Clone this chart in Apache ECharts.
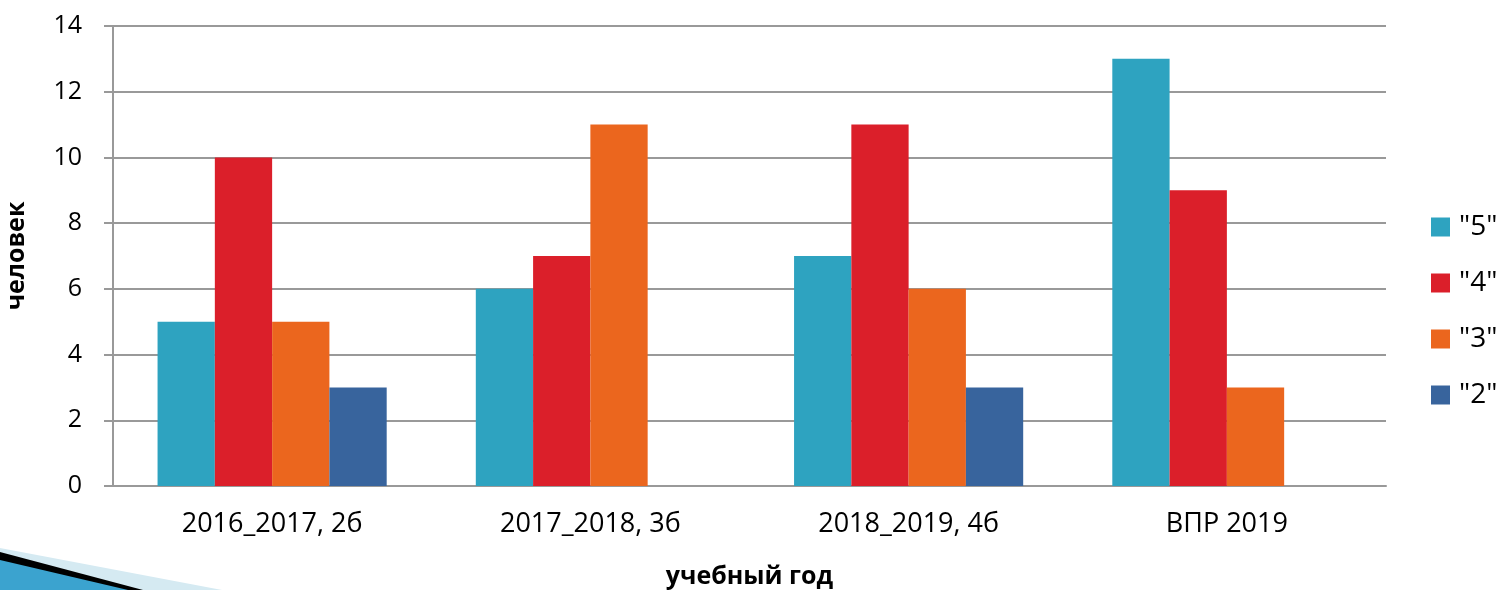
<!DOCTYPE html>
<html>
<head>
<meta charset="UTF-8">
<script src="https://cdn.jsdelivr.net/npm/echarts@6/dist/echarts.min.js"></script>
<style>
html,body{margin:0;padding:0;background:#fff;}
#chart{width:1499px;height:590px;}
</style>
</head>
<body>
<div id="chart"></div>
<script>
var categories = ['2016_2017, 2б', '2017_2018, 3б', '2018_2019, 4б', 'ВПР 2019'];
var grade5 = [5, 6, 7, 13];
var grade4 = [10, 7, 11, 9];
var grade3 = [5, 11, 6, 3];
var grade2 = [3, 0, 3, 0];
var seriesNames = ['"5"', '"4"', '"3"', '"2"'];
var colors = ['#2ea3c0', '#db1f2a', '#eb661e', '#38649d'];

var font = '"Open Sans", "Noto Sans", sans-serif';
var chart = echarts.init(document.getElementById('chart'));

function bar(name, data){
	return {
		name: name,
		type: 'bar',
		data: data,
		barGap: '0%',
		barCategoryGap: '28%'
	};
}

chart.setOption({
	animation: false,
	color: colors,
	textStyle: {fontFamily: font},
	grid: {left: 113, right: 113, top: 26, bottom: 104, outerBoundsMode: 'none', containLabel: false},
	legend: {
		orient: 'vertical',
		left: 1426,
		top: 208,
		itemWidth: 19,
		itemHeight: 19,
		itemGap: 28,
		icon: 'rect',
		textStyle: {fontSize: 28, color: '#000', fontFamily: font, padding: [0, 0, 0, 4]},
		data: seriesNames
	},
	xAxis: {
		type: 'category',
		data: categories,
		name: 'учебный год',
		nameLocation: 'middle',
		nameGap: 78,
		nameTextStyle: {fontSize: 25, fontWeight: 'bold', color: '#000', fontFamily: font},
		axisLine: {lineStyle: {color: '#999', width: 2}},
		axisTick: {show: false},
		axisLabel: {fontSize: 27, color: '#000', margin: 25, fontFamily: font}
	},
	yAxis: {
		type: 'value',
		min: 0,
		max: 14,
		interval: 2,
		name: 'человек',
		nameLocation: 'middle',
		nameGap: 84,
		nameTextStyle: {fontSize: 25, fontWeight: 'bold', color: '#000', fontFamily: font},
		axisLine: {show: true, lineStyle: {color: '#999', width: 2}},
		axisTick: {show: true, length: 9, lineStyle: {color: '#999', width: 2}},
		splitLine: {lineStyle: {color: '#999', width: 2}},
		axisLabel: {fontSize: 25, color: '#000', margin: 31, fontFamily: font}
	},
	graphic: [
		{type: 'polygon', silent: true, z: -1,
			shape: {points: [[0, 548], [222, 590], [0, 590]]},
			style: {fill: '#d5eaf2'}},
		{type: 'polygon', silent: true, z: -1,
			shape: {points: [[0, 552], [143, 590], [0, 590]]},
			style: {fill: '#000'}},
		{type: 'polygon', silent: true, z: -1,
			shape: {points: [[0, 560], [128, 590], [0, 590]]},
			style: {fill: '#3ba3cf'}}
	],
	series: [
		bar(seriesNames[0], grade5),
		bar(seriesNames[1], grade4),
		bar(seriesNames[2], grade3),
		bar(seriesNames[3], grade2)
	]
});
</script>
</body>
</html>
